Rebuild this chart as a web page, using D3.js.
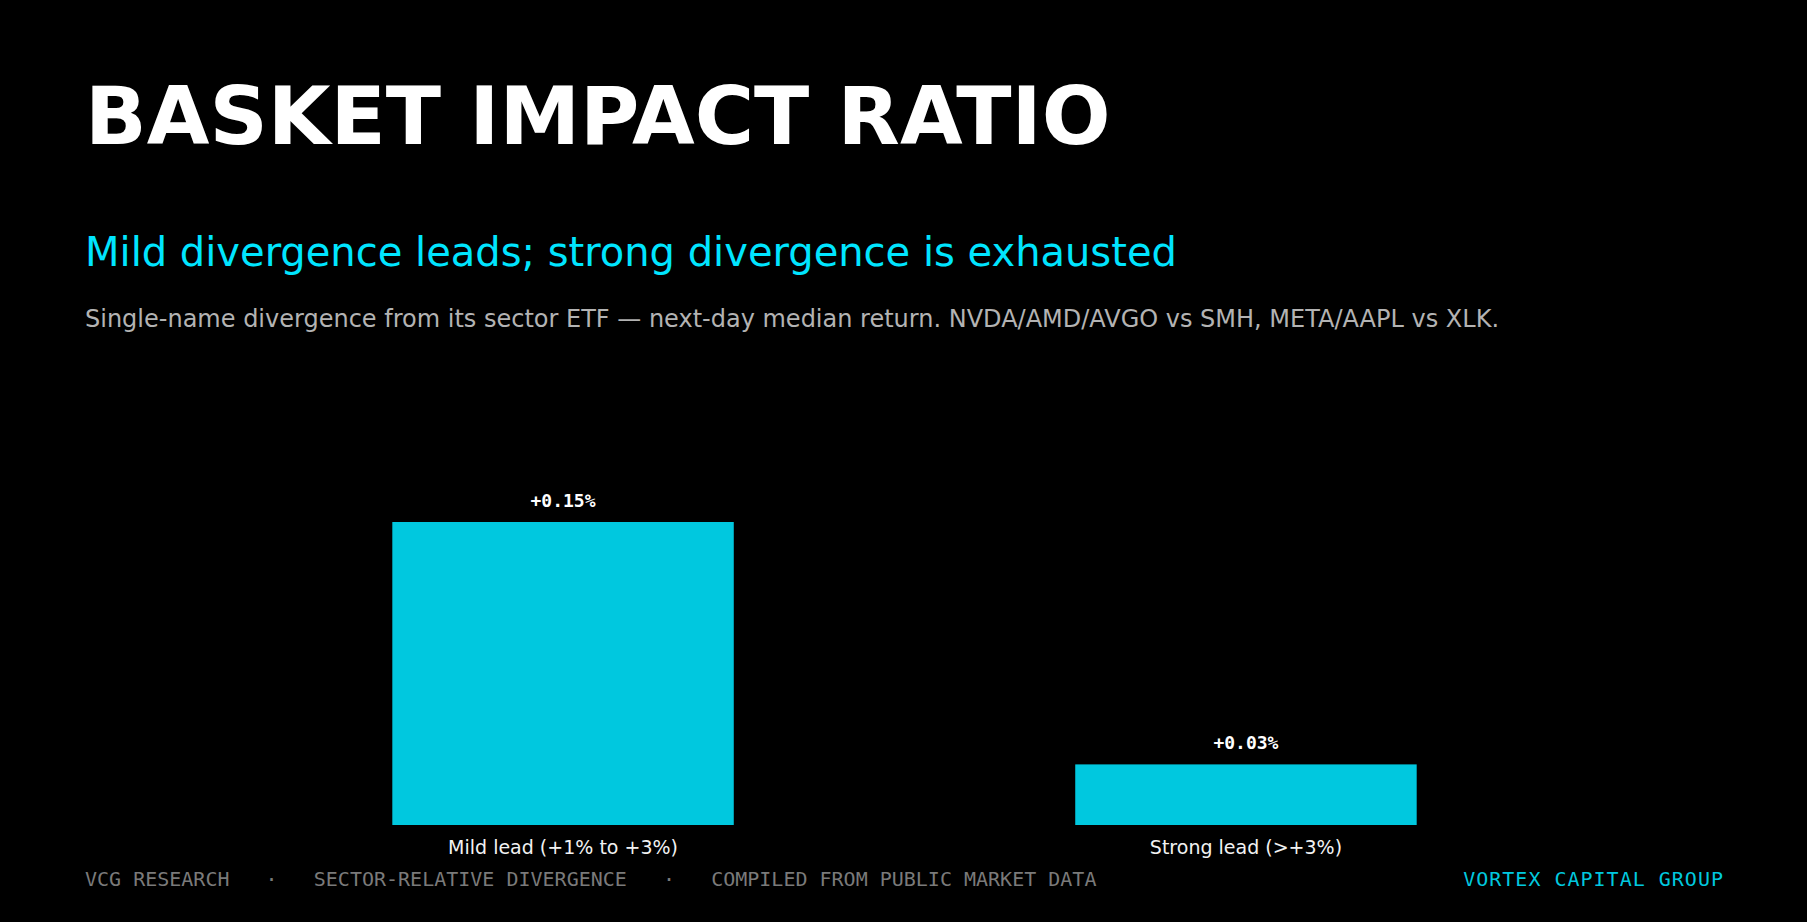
<!DOCTYPE html>
<html>
<head>
<meta charset="utf-8">
<script src="https://cdn.jsdelivr.net/npm/d3@7"></script>
<style>
  html, body { margin: 0; padding: 0; background: #000; }
  svg { display: block; }
</style>
</head>
<body>
<script>
// ---- data ----
const categories = ["Mild lead (+1% to +3%)", "Strong lead (>+3%)"];
const values = [0.15, 0.03];
const valueLabels = ["+0.15%", "+0.03%"];
const titleText = "BASKET IMPACT RATIO";
const subtitleText = "Mild divergence leads; strong divergence is exhausted";
const descText = "Single-name divergence from its sector ETF \u2014 next-day median return. NVDA/AMD/AVGO vs SMH, META/AAPL vs XLK.";
const footerLeft = "VCG RESEARCH   \u00b7   SECTOR-RELATIVE DIVERGENCE   \u00b7   COMPILED FROM PUBLIC MARKET DATA";
const footerRight = "VORTEX CAPITAL GROUP";

// ---- layout ----
const W = 1807, H = 922;
const left = 85, right = 1724;
const sans = "'DejaVu Sans', sans-serif";
const mono = "'DejaVu Sans Mono', monospace";

const svg = d3.select("body").append("svg")
  .attr("width", W).attr("height", H)
  .style("background", "#000");

svg.append("text").attr("x", left).attr("y", 144)
  .attr("fill", "#ffffff").attr("font-family", sans)
  .attr("font-weight", "bold").attr("font-size", 81)
  .text(titleText);

svg.append("text").attr("x", left).attr("y", 266)
  .attr("fill", "#00e5ff").attr("font-family", sans)
  .attr("font-size", 40)
  .text(subtitleText);

svg.append("text").attr("x", left).attr("y", 327)
  .attr("fill", "#b3b3b3").attr("font-family", sans)
  .attr("font-size", 24)
  .text(descText);

const x = d3.scaleBand().domain(categories).range([left, right])
  .paddingInner(0.5).paddingOuter(0.45);
const y = d3.scaleLinear().domain([0, 0.15]).range([825, 522]);

const data = categories.map((c, i) => ({ c, v: values[i], l: valueLabels[i] }));

svg.selectAll("rect.bar").data(data).join("rect")
  .attr("class", "bar")
  .attr("x", d => x(d.c)).attr("width", x.bandwidth())
  .attr("y", d => y(d.v)).attr("height", d => y(0) - y(d.v))
  .attr("fill", "#00c8df");

svg.selectAll("text.val").data(data).join("text")
  .attr("class", "val")
  .attr("x", d => x(d.c) + x.bandwidth() / 2)
  .attr("y", d => y(d.v) - 15)
  .attr("text-anchor", "middle")
  .attr("fill", "#ffffff").attr("font-family", mono)
  .attr("font-weight", "bold").attr("font-size", 18)
  .text(d => d.l);

const xAxis = svg.append("g").attr("transform", `translate(0,${y(0)})`)
  .call(d3.axisBottom(x).tickSize(0).tickPadding(29));
xAxis.select(".domain").remove();
xAxis.selectAll("text")
  .attr("fill", "#f2f2f2").attr("font-family", sans).attr("font-size", 19)
  .attr("dy", 0);

svg.append("text").attr("x", 85).attr("y", 886)
  .attr("fill", "#7a7a7a").attr("font-family", mono)
  .attr("font-size", 20).attr("xml:space", "preserve")
  .style("white-space", "pre")
  .text(footerLeft);

svg.append("text").attr("x", 1724).attr("y", 886)
  .attr("text-anchor", "end")
  .attr("fill", "#00c8df").attr("font-family", mono)
  .attr("font-size", 20).attr("letter-spacing", 1)
  .text(footerRight);
</script>
</body>
</html>
